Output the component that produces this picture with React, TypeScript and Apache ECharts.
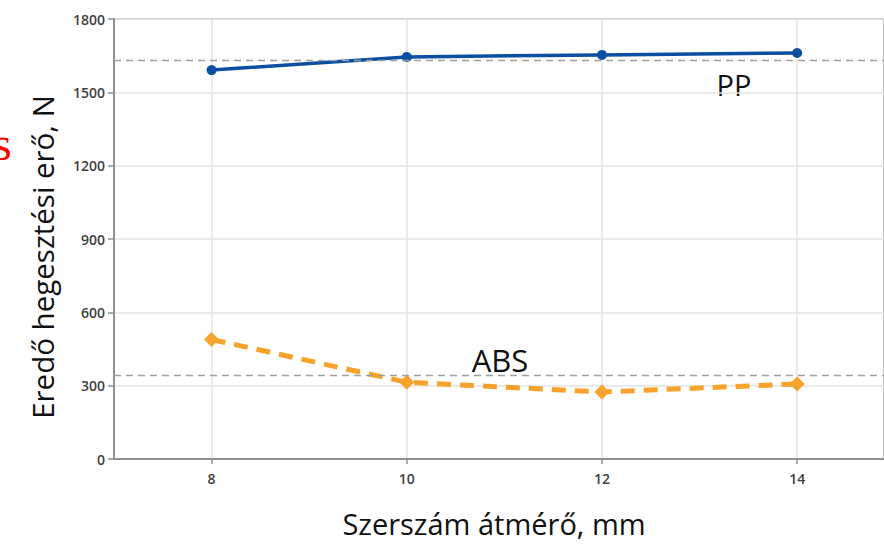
import React, { useEffect, useRef } from "react";
import * as echarts from "echarts";

const diameters = [8, 10, 12, 14];
const ppValues = [1591, 1645, 1653, 1661];
const absValues = [489, 314, 274, 307];
const ppAverage = 1632;
const absAverage = 344;
const yTicks = [0, 300, 600, 900, 1200, 1500, 1800];
const yTitle = "Eredő hegesztési erő, N";
const xTitle = "Szerszám átmérő, mm";

export default function App() {
  const ref = useRef<HTMLDivElement>(null);
  useEffect(() => {
    if (!ref.current) return;
    const chart = echarts.init(ref.current, undefined, { renderer: "svg" });
    const font = "'Open Sans', 'Noto Sans', sans-serif";
    chart.setOption({
      animation: false,
      backgroundColor: "#ffffff",
      grid: {
        left: 114,
        top: 19,
        right: 0,
        height: 440,
        show: true,
        borderColor: "#b0b0b0",
        borderWidth: 1.5,
        outerBoundsMode: "none",
      },
      xAxis: {
        type: "value",
        min: 7,
        max: 14.89,
        axisLine: { show: true, onZero: false, lineStyle: { color: "#909090", width: 2 } },
        axisTick: { show: true, length: 5, customValues: diameters, lineStyle: { color: "#909090", width: 1.5 } },
        axisLabel: { customValues: diameters, color: "#404040", fontSize: 14, fontFamily: font, fontWeight: 600, margin: 12 },
        splitLine: { show: true, customValues: diameters, lineStyle: { color: "#e3e3e3", width: 1.5 } },
      },
      yAxis: {
        type: "value",
        min: 0,
        max: 1800,
        interval: 300,
        axisLine: { show: true, lineStyle: { color: "#909090", width: 2 } },
        axisTick: { show: true, length: 6, lineStyle: { color: "#909090", width: 1.5 } },
        axisLabel: { color: "#404040", fontSize: 14, fontFamily: font, fontWeight: 600, margin: 9,
          formatter: (v: number) => (yTicks.includes(v) ? String(v) : "") },
        splitLine: { show: true, lineStyle: { color: "#e3e3e3", width: 1.5 } },
      },
      series: [
        {
          name: "PP",
          type: "line",
          data: diameters.map((d, i) => [d, ppValues[i]]),
          symbol: "circle",
          symbolSize: 10,
          lineStyle: { color: "#0b4ea2", width: 3.5 },
          itemStyle: { color: "#0b4ea2" },
          markLine: {
            silent: true,
            symbol: "none",
            label: { show: false },
            lineStyle: { color: "#a0a0a0", type: [7, 5], width: 1.3 },
            data: [{ yAxis: ppAverage }],
          },
          z: 3,
        },
        {
          name: "ABS",
          type: "line",
          data: diameters.map((d, i) => [d, absValues[i]]),
          symbol: "diamond",
          symbolSize: 15,
          lineStyle: { color: "#f7a22b", width: 5, type: [14, 9] },
          itemStyle: { color: "#f7a22b" },
          markLine: {
            silent: true,
            symbol: "none",
            label: { show: false },
            lineStyle: { color: "#a0a0a0", type: [7, 5], width: 1.3 },
            data: [{ yAxis: absAverage }],
          },
          z: 3,
        },
      ],
      graphic: [
        {
          type: "text",
          x: 42,
          y: 257,
          rotation: Math.PI / 2,
          style: { text: yTitle, font: `29.5px ${font}`, fill: "#111", align: "center", verticalAlign: "middle" },
        },
        {
          type: "text",
          x: 494,
          y: 523,
          style: { text: xTitle, font: `29px ${font}`, fill: "#111", align: "center", verticalAlign: "middle" },
        },
        {
          type: "text",
          x: 734,
          y: 84,
          style: { text: "PP", font: `29px ${font}`, fill: "#111", align: "center", verticalAlign: "middle" },
        },
        {
          type: "text",
          x: 500,
          y: 360,
          style: { text: "ABS", font: `31px ${font}`, fill: "#111", align: "center", verticalAlign: "middle" },
        },
        {
          type: "text",
          x: -7,
          y: 143,
          style: { text: "s", font: `48px 'Liberation Serif', serif`, fill: "#ff0000", align: "left", verticalAlign: "middle" },
        },
      ],
    });
    return () => chart.dispose();
  }, []);
  return <div ref={ref} style={{ position: "fixed", left: 0, top: 0, width: 884, height: 544 }} />;
}
